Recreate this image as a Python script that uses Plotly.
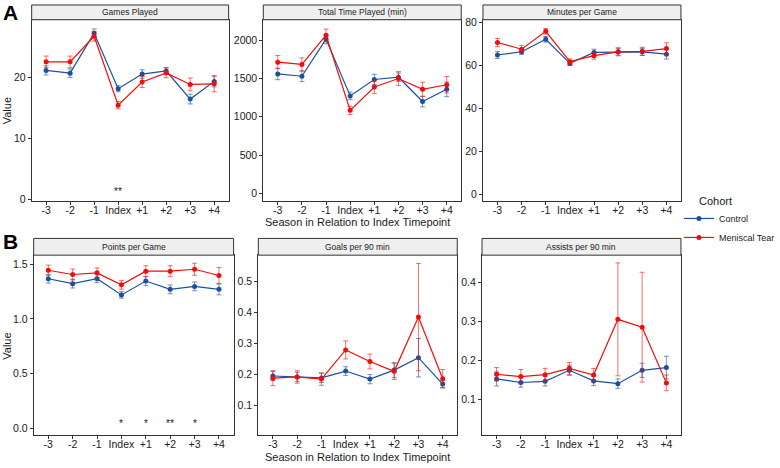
import plotly.graph_objects as go

# ---------------- data ----------------
seasons = ["-3", "-2", "-1", "Index", "+1", "+2", "+3", "+4"]

games_ctrl = [21.2, 20.75, 27.3, 18.2, 20.6, 21.1, 16.5, 19.4]
games_ctrl_se = [0.75, 0.7, 0.7, 0.5, 0.7, 0.6, 0.8, 0.9]
games_tear = [22.6, 22.6, 26.8, 15.5, 19.3, 20.8, 18.9, 19.0]
games_tear_se = [0.95, 0.95, 0.8, 0.6, 0.9, 0.8, 1.05, 1.3]

time_ctrl = [1559, 1529, 2013, 1272, 1486, 1516, 1199, 1358]
time_ctrl_se = [75, 70, 60, 50, 68, 55, 70, 96]
time_tear = [1713, 1683, 2064, 1084, 1388, 1499, 1358, 1418]
time_tear_se = [86, 86, 80, 54, 86, 90, 94, 107]

mpg_ctrl = [65.0, 66.5, 72.3, 61.1, 66.2, 66.5, 66.5, 65.4]
mpg_ctrl_se = [1.6, 1.3, 1.3, 1.0, 1.5, 1.6, 1.6, 2.3]
mpg_tear = [70.8, 67.7, 76.0, 61.9, 64.7, 66.5, 66.7, 68.0]
mpg_tear_se = [1.9, 1.8, 1.3, 1.3, 1.6, 1.9, 1.9, 2.7]

ppg_ctrl = [1.368, 1.323, 1.368, 1.220, 1.347, 1.271, 1.298, 1.271]
ppg_ctrl_se = [0.04, 0.04, 0.035, 0.03, 0.04, 0.04, 0.04, 0.05]
ppg_tear = [1.446, 1.407, 1.422, 1.313, 1.437, 1.437, 1.455, 1.398]
ppg_tear_se = [0.047, 0.05, 0.045, 0.04, 0.05, 0.05, 0.055, 0.074]

goals_ctrl = [0.194, 0.191, 0.188, 0.210, 0.184, 0.213, 0.253, 0.168]
goals_ctrl_se = [0.015, 0.015, 0.015, 0.014, 0.015, 0.024, 0.062, 0.011]
goals_tear = [0.187, 0.191, 0.184, 0.278, 0.241, 0.209, 0.384, 0.185]
goals_tear_se = [0.024, 0.02, 0.02, 0.029, 0.024, 0.026, 0.173, 0.03]

assists_ctrl = [0.153, 0.144, 0.147, 0.175, 0.148, 0.141, 0.175, 0.182]
assists_ctrl_se = [0.018, 0.012, 0.012, 0.013, 0.012, 0.012, 0.018, 0.029]
assists_tear = [0.165, 0.159, 0.164, 0.180, 0.163, 0.305, 0.285, 0.143]
assists_tear_se = [0.017, 0.018, 0.016, 0.015, 0.017, 0.144, 0.14, 0.02]

games_sig = ["", "", "", "**", "", "", "", ""]
ppg_sig = ["", "", "", "*", "*", "**", "*", ""]

panel_titles = ["Games Played", "Total Time Played (min)", "Minutes per Game",
                "Points per Game", "Goals per 90 min", "Assists per 90 min"]
cohorts = ["Control", "Meniscal Tear"]

# ---------------- layout helpers ----------------
W, H = 780, 468
COL_CTRL = "#1c4f9c"
COL_TEAR = "#f20d0d"
ERR_CTRL = "rgba(28,79,156,0.6)"
ERR_TEAR = "rgba(242,13,13,0.6)"
FONT = "Liberation Sans, Arial, sans-serif"
TXT = "#1a1a1a"

def px_x(v):
    return v / W

def px_y(v):
    return 1 - v / H

# plot areas in pixels: (left, right, top, bottom)
boxes = [
    (32, 231, 17, 201), (266, 466, 17, 201), (488, 688, 17, 201),
    (34, 236, 256, 439), (261, 462, 256, 439), (487, 688, 256, 439),
]
strip_tops = [2, 2, 2, 239, 239, 239]

yranges = [[-0.2, 29.5], [-99, 2266], [-2.9, 81.4],
           [-0.067, 1.584], [0.0025, 0.5835], [0.009, 0.4686]]
ytickvals = [[0, 10, 20], [0, 500, 1000, 1500, 2000], [0, 20, 40, 60, 80],
             [0.0, 0.5, 1.0, 1.5], [0.1, 0.2, 0.3, 0.4, 0.5], [0.1, 0.2, 0.3, 0.4]]
ytickfmt = ["d", "d", "d", ".1f", ".1f", ".1f"]

series = [
    (games_ctrl, games_ctrl_se, games_tear, games_tear_se),
    (time_ctrl, time_ctrl_se, time_tear, time_tear_se),
    (mpg_ctrl, mpg_ctrl_se, mpg_tear, mpg_tear_se),
    (ppg_ctrl, ppg_ctrl_se, ppg_tear, ppg_tear_se),
    (goals_ctrl, goals_ctrl_se, goals_tear, goals_tear_se),
    (assists_ctrl, assists_ctrl_se, assists_tear, assists_tear_se),
]

fig = go.Figure()
shapes = []
annotations = []

for i, (box, ser) in enumerate(zip(boxes, series)):
    n = i + 1
    xa = "x" if n == 1 else f"x{n}"
    ya = "y" if n == 1 else f"y{n}"
    c, cse, t, tse = ser
    for vals, se, col, ecol, name in [(c, cse, COL_CTRL, ERR_CTRL, cohorts[0]),
                                      (t, tse, COL_TEAR, ERR_TEAR, cohorts[1])]:
        fig.add_trace(go.Scatter(
            x=seasons, y=vals, mode="lines+markers", name=name,
            legendgroup=name, showlegend=(i == 0),
            line=dict(color=col, width=1.2),
            marker=dict(color=col, size=5),
            error_y=dict(type="data", array=se, visible=True, color=ecol,
                         thickness=1, width=2.5),
            xaxis=xa, yaxis=ya,
        ))
    l, r, tp, bt = box
    axkey = "xaxis" if n == 1 else f"xaxis{n}"
    aykey = "yaxis" if n == 1 else f"yaxis{n}"
    fig.layout[axkey] = dict(
        domain=[px_x(l), px_x(r)], anchor=ya, type="category",
        categoryorder="array", categoryarray=seasons,
        range=[-0.6, 7.6], showgrid=False, zeroline=False,
        showline=True, linecolor="#333333", linewidth=1, mirror=True,
        ticks="outside", ticklen=3, tickcolor="#333333",
        ticklabelstandoff=-4,
        tickfont=dict(family=FONT, size=10.5, color=TXT),
    )
    fig.layout[aykey] = dict(
        domain=[px_y(bt), px_y(tp)], anchor=xa, range=yranges[i],
        tickvals=ytickvals[i], tickformat=ytickfmt[i],
        showgrid=False, zeroline=False,
        showline=True, linecolor="#333333", linewidth=1, mirror=True,
        ticks="outside", ticklen=3, tickcolor="#333333",
        tickfont=dict(family=FONT, size=10.5, color=TXT),
    )
    # strip
    st = strip_tops[i]
    shapes.append(dict(type="rect", xref="paper", yref="paper",
                       x0=px_x(l), x1=px_x(r), y0=px_y(tp), y1=px_y(st),
                       fillcolor="#efefef", line=dict(color="#333333", width=1)))
    annotations.append(dict(text=panel_titles[i], xref="paper", yref="paper",
                            x=px_x((l + r) / 2), y=px_y((st + tp) / 2),
                            xanchor="center", yanchor="middle", showarrow=False,
                            font=dict(family=FONT, size=8.5, color=TXT)))

# significance markers (numeric category index so "+1" is not parsed as a number)
for sig_list, xa, ya, ybase in [(games_sig, "x", "y", 1.3), (ppg_sig, "x4", "y4", 0.045)]:
    for k, lab in enumerate(sig_list):
        if lab:
            annotations.append(dict(text=lab, x=k, y=ybase, xref=xa, yref=ya,
                                    showarrow=False, xanchor="center", yanchor="middle",
                                    font=dict(family=FONT, size=10, color=TXT)))

# axis titles
for yc in [109, 348]:
    annotations.append(dict(text="Value", xref="paper", yref="paper",
                            x=px_x(7), y=px_y(yc), textangle=-90, showarrow=False,
                            xanchor="center", yanchor="middle",
                            font=dict(family=FONT, size=11, color=TXT)))
for yc in [222.5, 460.5]:
    annotations.append(dict(text="Season in Relation to Index Timepoint",
                            xref="paper", yref="paper", x=px_x(361), y=px_y(yc),
                            showarrow=False, xanchor="center", yanchor="middle",
                            font=dict(family=FONT, size=11, color=TXT)))

# panel letters
for lab, yc in [("A", 10), ("B", 242)]:
    annotations.append(dict(text=f"<b>{lab}</b>", xref="paper", yref="paper",
                            x=px_x(1), y=px_y(yc), showarrow=False,
                            xanchor="left", yanchor="middle",
                            font=dict(family=FONT, size=21, color="#000000")))

# legend title
annotations.append(dict(text="Cohort", xref="paper", yref="paper",
                        x=px_x(704), y=px_y(201), showarrow=False,
                        xanchor="left", yanchor="middle",
                        font=dict(family=FONT, size=11, color=TXT)))

fig.update_layout(
    width=W, height=H, margin=dict(l=0, r=0, t=0, b=0),
    paper_bgcolor="white", plot_bgcolor="white",
    shapes=shapes, annotations=annotations,
    showlegend=True,
    legend=dict(x=px_x(686), y=px_y(204), xanchor="left", yanchor="top",
                font=dict(family=FONT, size=9, color=TXT),
                bgcolor="rgba(0,0,0,0)", itemwidth=30, tracegroupgap=0),
)

fig.write_html("out.html", config={"displayModeBar": False},
               post_script="document.body.style.margin='0';document.body.style.overflow='hidden';")
